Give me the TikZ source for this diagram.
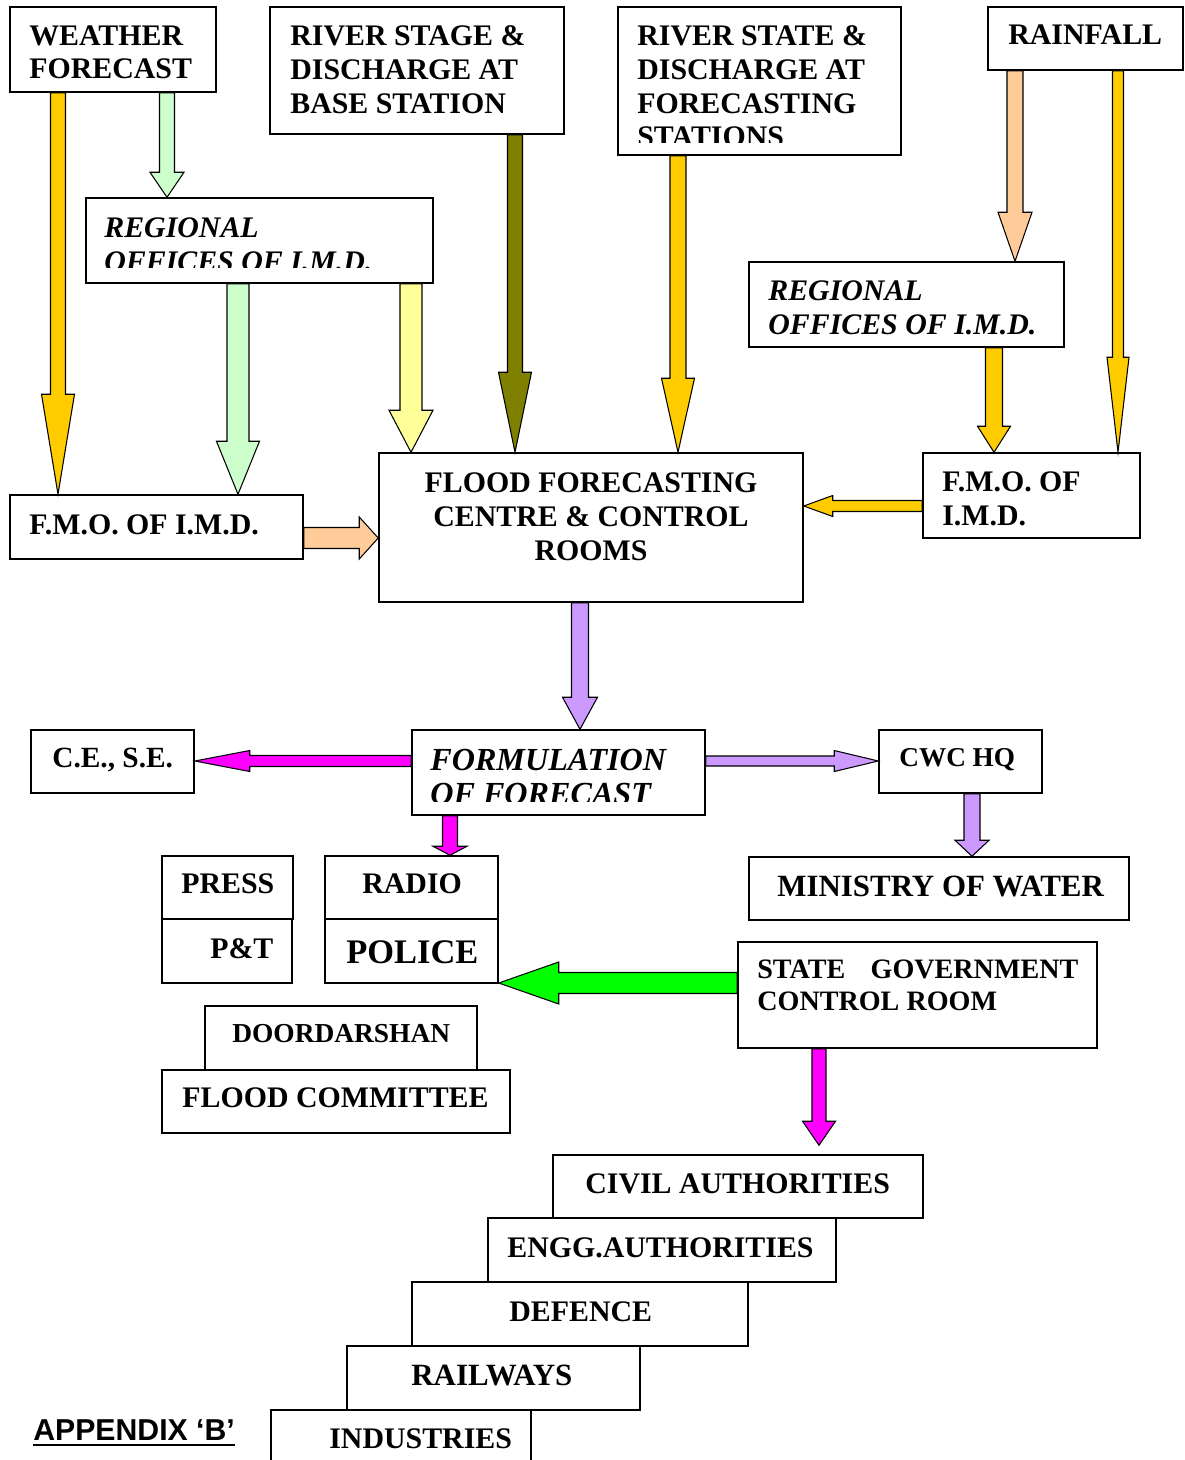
\documentclass[tikz,border=0pt]{standalone}
\usepackage{fontspec}
\setmainfont{Liberation Serif}
\newfontfamily\arialf{Liberation Sans}
\usetikzlibrary{calc}
\definecolor{cGold}{HTML}{FFCC00}
\definecolor{cLGreen}{HTML}{CCFFCC}
\definecolor{cLYellow}{HTML}{FFFF99}
\definecolor{cOlive}{HTML}{808000}
\definecolor{cPeach}{HTML}{FFCC99}
\definecolor{cLav}{HTML}{CC99FF}
\definecolor{cMag}{HTML}{FF00FF}
\definecolor{cGreen}{HTML}{00FF00}
\tikzset{
  box/.style={draw=black, line width=0.85pt, fill=white, rectangle, inner sep=0pt},
  lbl/.style={inner sep=0pt, anchor=base west, align=left, font=\bfseries\fontsize{17pt}{19.35pt}\selectfont},
  ilbl/.style={lbl, font=\bfseries\itshape\fontsize{17pt}{19.35pt}\selectfont},
  arr/.style={draw=black, line width=0.6pt, line join=miter},
}
\newcommand\bx[5]{\node[box, minimum width={(#4-#2)*0.02cm}, minimum height={(#5-#3)*0.02cm}] (#1) at ({(#2+#4)/2},{(#3+#5)/2}) {};}
% #1 start, #2 end, #3 half shaft, #4 half head, #5 head length (px), #6 colour
\newcommand\barrow[6]{%
  \coordinate (ba-s) at #1;
  \coordinate (ba-e) at #2;
  \coordinate (ba-h) at ($(ba-e)!#5*0.02cm!(ba-s)$);
  \filldraw[arr, fill=#6] ($(ba-s)!#3*0.02cm!90:(ba-e)$) -- ($(ba-h)!#3*0.02cm!90:(ba-e)$)
    -- ($(ba-h)!#4*0.02cm!90:(ba-e)$) -- (ba-e) -- ($(ba-h)!#4*0.02cm!-90:(ba-e)$)
    -- ($(ba-h)!#3*0.02cm!-90:(ba-e)$) -- ($(ba-s)!#3*0.02cm!-90:(ba-e)$) -- cycle;
}
\begin{document}
\begin{tikzpicture}[x=0.02cm, y=-0.02cm]
\useasboundingbox (0,0) rectangle (1184,1460);
\fill[white] (0,0) rectangle (1184,1460);
\clip (0,0) rectangle (1184,1460);

% boxes
\bx{wf}{10}{7}{216}{92}
\bx{rsb}{270}{7}{564}{134}
\bx{rsf}{618}{7}{901}{155}
\bx{rain}{988}{7}{1183}{70}
\bx{regl}{86}{198}{433}{283}
\bx{regr}{749}{262}{1064}{347}
\bx{fmol}{10}{495}{303}{559}
\bx{ffc}{379}{453}{803}{602}
\bx{fmor}{923}{453}{1140}{538}
\bx{ce}{31}{730}{194}{793}
\bx{form}{412}{730}{705}{815}
\bx{cwc}{879}{730}{1042}{793}
\bx{min}{749}{857}{1129}{920}
\bx{press}{162}{856}{293}{919}
\bx{pt}{162}{919}{292}{983}
\bx{radio}{325}{856}{498}{919}
\bx{police}{325}{919}{498}{983}
\bx{sg}{738}{942}{1097}{1048}
\bx{door}{205}{1006}{477}{1070}
\bx{fcom}{162}{1070}{510}{1133}
\bx{civil}{553}{1155}{923}{1218}
\bx{engg}{488}{1218}{836}{1282}
\bx{def}{412}{1282}{748}{1346}
\bx{rail}{347}{1346}{640}{1410}
\bx{ind}{271}{1410}{531}{1478}

% texts (multi-line nodes are placed by the baseline of their last line)
\node[lbl] (wf-t) at (29,79) {WEATHER\\FORECAST};
\node[lbl] (rsb-t) at (290,113) {RIVER STAGE \&\\DISCHARGE AT\\BASE STATION};
\begin{scope}
\clip (618,7) rectangle (901,142);
\node[lbl] (rsf-t) at (637,147) {RIVER STATE \&\\DISCHARGE AT\\FORECASTING\\STATIONS};
\end{scope}
\node[lbl] (rain-t) at (1008,45) {RAINFALL};
\begin{scope}
\clip (86,198) rectangle (433,267);
\node[ilbl] (regl-t) at (104,271) {REGIONAL\\OFFICES OF I.M.D.};
\end{scope}
\node[ilbl] (regr-t) at (768,334) {REGIONAL\\OFFICES OF I.M.D.};
\node[lbl] (fmol-t) at (29,534) {F.M.O. OF I.M.D.};
\node[lbl, anchor=base, align=center] (ffc-t) at (591,560) {FLOOD FORECASTING\\CENTRE \& CONTROL\\ROOMS};
\node[lbl] (fmor-t) at (942,525) {F.M.O. OF\\I.M.D.};
\node[lbl, font=\bfseries\fontsize{16.7pt}{19.35pt}\selectfont] (ce-t) at (52,767) {C.E., S.E.};
\begin{scope}
\clip (412,730) rectangle (705,801);
\node[ilbl, font=\bfseries\itshape\fontsize{18.3pt}{19.35pt}\selectfont] (form-t) at (430,804) {FORMULATION\\OF FORECAST};
\end{scope}
\node[lbl, font=\bfseries\fontsize{15.5pt}{19.35pt}\selectfont] (cwc-t) at (899,766) {CWC HQ};
\node[lbl, font=\bfseries\fontsize{17.6pt}{19.35pt}\selectfont] (min-t) at (777,896) {MINISTRY OF WATER};
\node[lbl] (press-t) at (181,893) {PRESS};
\node[lbl] (pt-t) at (210,958) {P\&T};
\node[lbl] (radio-t) at (362,893) {RADIO};
\node[lbl, font=\bfseries\fontsize{19.6pt}{22pt}\selectfont] (police-t) at (346,963) {POLICE};
\node[lbl, font=\bfseries\fontsize{16pt}{18.2pt}\selectfont] (sg-t) at (757,1010) {STATE\hspace{0.9em}GOVERNMENT\\CONTROL ROOM};
\node[lbl, font=\bfseries\fontsize{15.6pt}{19.35pt}\selectfont] (door-t) at (232,1042) {DOORDARSHAN};
\node[lbl] (fcom-t) at (182,1107) {FLOOD COMMITTEE};
\node[lbl] (civil-t) at (585,1193) {CIVIL AUTHORITIES};
\node[lbl] (engg-t) at (507,1257) {ENGG.AUTHORITIES};
\node[lbl] (def-t) at (509,1321) {DEFENCE};
\node[lbl, font=\bfseries\fontsize{17.6pt}{19.35pt}\selectfont] (rail-t) at (411,1385) {RAILWAYS};
\node[lbl] (ind-t) at (329,1448) {INDUSTRIES};
\node[lbl, font=\arialf\bfseries\fontsize{17.2pt}{19pt}\selectfont] (app) at (33,1440) {APPENDIX ‘B’};
\draw[line width=1.2pt] ([yshift=-2.6pt]app.base west) -- ([yshift=-2.6pt]app.base east);

% arrows
\barrow{(wf.south -| 58,0)}{(fmol.north -| 58,0)}{7.5}{16.5}{100}{cGold}
\barrow{(wf.south -| 167,0)}{(regl.north -| 167,0)}{7.5}{17}{25}{cLGreen}
\barrow{(regl.south -| 238,0)}{(fmol.north -| 238,0)}{11}{21.5}{53}{cLGreen}
\barrow{(regl.south -| 411,0)}{(ffc.north -| 411,0)}{11}{22}{42}{cLYellow}
\barrow{(rsb.south -| 515,0)}{(ffc.north -| 515,0)}{7.5}{16.5}{80}{cOlive}
\barrow{(rsf.south -| 678,0)}{(ffc.north -| 678,0)}{8}{16.5}{74}{cGold}
\barrow{(rain.south -| 1015,0)}{(regr.north -| 1015,0)}{8}{17}{49}{cPeach}
\barrow{(rain.south -| 1118,0)}{(fmor.north -| 1118,0)}{5.5}{11}{95}{cGold}
\barrow{(regr.south -| 994,0)}{(fmor.north -| 994,0)}{8.5}{16.5}{26}{cGold}
\barrow{(fmor.west |- 0,506)}{(ffc.east |- 0,506)}{5.5}{10.5}{29}{cGold}
\barrow{(fmol.east |- 0,538)}{(ffc.west |- 0,538)}{10.5}{21}{19}{cPeach}
\barrow{(ffc.south -| 580,0)}{(form.north -| 580,0)}{8.5}{17.5}{32}{cLav}
\barrow{(form.west |- 0,761)}{(ce.east |- 0,761)}{5.5}{10.5}{55}{cMag}
\barrow{(form.east |- 0,761)}{(cwc.west |- 0,761)}{5}{10.5}{44}{cLav}
\barrow{(form.south -| 450,0)}{(radio.north -| 450,0)}{7.5}{17}{9}{cMag}
\barrow{(cwc.south -| 972,0)}{(min.north -| 972,0)}{8}{17}{16}{cLav}
\barrow{(sg.west |- 0,983)}{(police.east |- 0,983)}{10.5}{21}{60}{cGreen}
\barrow{(sg.south -| 819,0)}{($(civil.north -| 819,0)+(0,-9)$)}{7}{16.5}{24}{cMag}
\end{tikzpicture}
\end{document}
